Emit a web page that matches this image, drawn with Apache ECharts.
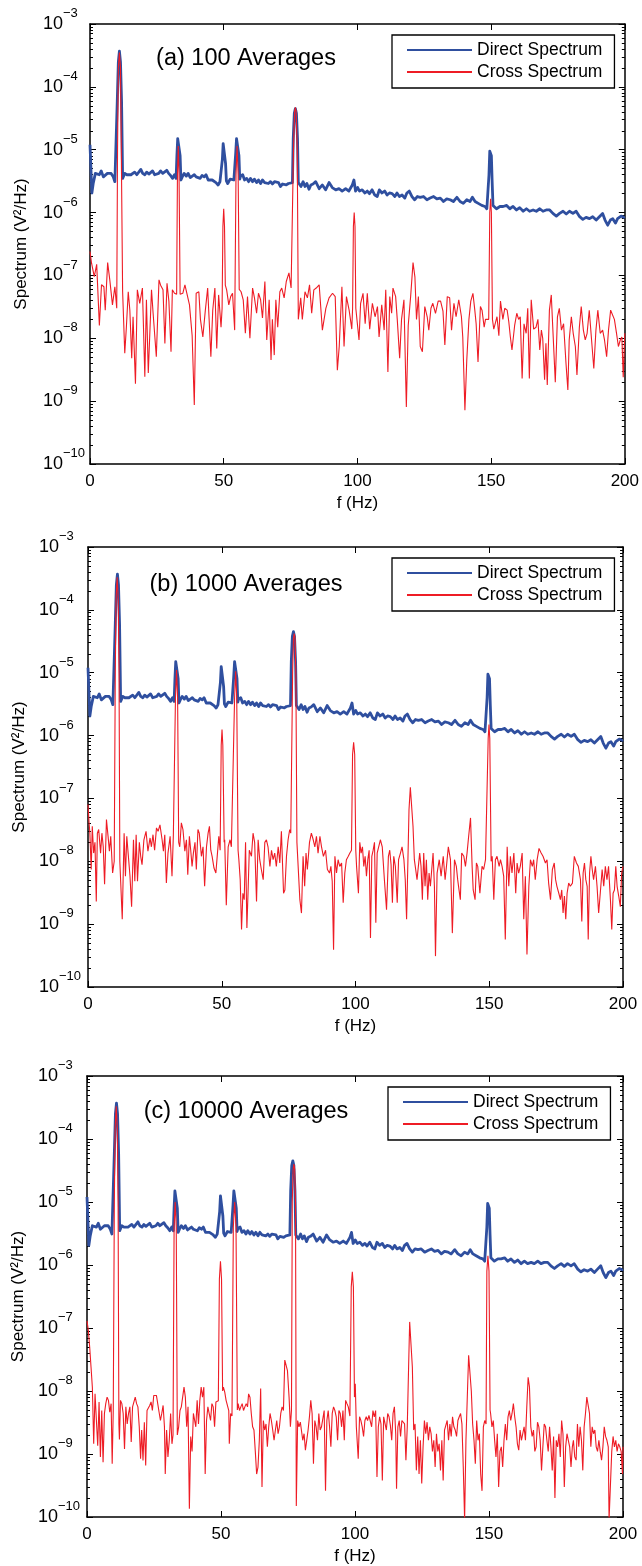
<!DOCTYPE html>
<html><head><meta charset="utf-8">
<script src="https://cdn.jsdelivr.net/npm/echarts@6/dist/echarts.min.js"></script>
<style>html,body{margin:0;padding:0;background:#fff}#chart{width:642px;height:1566px}</style>
</head><body><div id="chart"></div>
<script>
// ---------- data (frequency in Hz, spectrum in V^2/Hz) ----------
const directSpectrum = [[0,1.2e-5],[0.7,2.05e-6],[1.2,2.9e-6],[2,4.2e-6],[2.7,4.4e-6],[3.5,4e-6],[4.2,4.6e-6],[5,3.7e-6],[5.7,3.6e-6],[6.5,4.2e-6],[7.2,4.5e-6],[7.9,4.2e-6],[8.7,3.7e-6],[9.3,3.1e-6],[9.7,3.2e-6],[10.2,6e-5],[10.6,2.5e-4],[11,3.7e-4],[11.4,2.5e-4],[11.8,6e-5],[12.2,3.5e-6],[13,4.2e-6],[13.8,4e-6],[14.5,4.3e-6],[15.3,4e-6],[16,4.2e-6],[16.7,4.4e-6],[17.5,4e-6],[18.2,4.1e-6],[19,4.85e-6],[19.7,4.2e-6],[20.5,4e-6],[21.2,4.4e-6],[22,4.1e-6],[22.7,4e-6],[23.4,4.6e-6],[24.2,4e-6],[24.9,4.3e-6],[25.7,4.2e-6],[26.4,4.6e-6],[27.2,4.2e-6],[27.9,4.4e-6],[28.7,4.7e-6],[29.4,4.2e-6],[30.1,3.9e-6],[30.9,3.5e-6],[31.6,4e-6],[32.2,3.5e-6],[32.5,8e-6],[32.8,1.5e-5],[33.1,1.6e-5],[33.4,1.5e-5],[33.7,8e-6],[34,3.3e-6],[34.5,3.7e-6],[35.2,4.2e-6],[36,3.8e-6],[36.7,4.2e-6],[37.5,3.6e-6],[38.2,3.5e-6],[39,4e-6],[39.7,3.7e-6],[40.4,3.9e-6],[41.2,3.5e-6],[41.9,3.9e-6],[42.7,3.7e-6],[43.4,4e-6],[44.2,3.3e-6],[44.9,3.5e-6],[45.7,3.3e-6],[46.4,3.5e-6],[47.1,3e-6],[47.9,2.75e-6],[48.6,3.1e-6],[49.2,3.2e-6],[49.5,7e-6],[49.8,1.25e-5],[50.1,1.3e-5],[50.4,1.2e-5],[50.7,6e-6],[51,3.2e-6],[51.5,2.9e-6],[52.4,3.4e-6],[53.1,3.5e-6],[53.8,3.3e-6],[54.2,3.3e-6],[54.5,9e-6],[54.8,1.5e-5],[55.1,1.6e-5],[55.4,1.45e-5],[55.7,8e-6],[56,3.4e-6],[56.3,3.8e-6],[57.1,4e-6],[57.8,3.3e-6],[58.6,3.5e-6],[59.3,3.1e-6],[60,3.5e-6],[60.8,3.1e-6],[61.5,3.4e-6],[62.3,3e-6],[63,3.3e-6],[63.8,2.9e-6],[64.5,3.3e-6],[65.3,3e-6],[66,3.1e-6],[66.7,2.9e-6],[67.5,3.1e-6],[68.2,2.85e-6],[69,3.1e-6],[69.7,2.9e-6],[70.5,3e-6],[71.2,2.6e-6],[72,2.85e-6],[72.7,3e-6],[73.4,2.75e-6],[74.2,2.9e-6],[74.9,3.1e-6],[75.7,3e-6],[76,1.5e-5],[76.4,3.8e-5],[76.8,4.5e-5],[77.2,3.8e-5],[77.6,1.5e-5],[77.9,3e-6],[78.2,3.1e-6],[78.9,2.6e-6],[79.7,3.1e-6],[80.4,2.6e-6],[81.1,2.9e-6],[81.9,2.35e-6],[82.6,2.75e-6],[83.4,2.85e-6],[84.4,3.1e-6],[85.7,2.4e-6],[86.9,2.75e-6],[88.1,2.3e-6],[89.4,3e-6],[90.6,2.5e-6],[91.9,2.3e-6],[93.1,2.4e-6],[94.3,2.2e-6],[95.6,2.4e-6],[96.8,2.2e-6],[98.1,2.75e-6],[98.7,3.3e-6],[99.3,2.2e-6],[100.1,2.5e-6],[100.8,2.2e-6],[101.8,2.3e-6],[102.8,2.05e-6],[103.7,2.2e-6],[104.5,2e-6],[105.5,2.3e-6],[106.5,1.9e-6],[107.4,1.8e-6],[108.2,2.3e-6],[109.2,2.05e-6],[110.2,2.2e-6],[111.1,1.9e-6],[112,2.05e-6],[113,2e-6],[114,1.8e-6],[114.8,2.05e-6],[115.7,1.8e-6],[116.7,1.9e-6],[117.7,1.7e-6],[118.5,2.05e-6],[119.4,2.2e-6],[120.4,1.8e-6],[121.4,1.6e-6],[122.4,1.8e-6],[123.5,1.75e-6],[124.7,1.8e-6],[126,1.6e-6],[127.2,1.7e-6],[128.5,1.8e-6],[129.7,1.65e-6],[131,1.7e-6],[132.2,1.5e-6],[133.4,1.65e-6],[134.7,1.6e-6],[135.9,1.5e-6],[137.2,1.75e-6],[138.4,1.5e-6],[139.6,1.4e-6],[140.9,1.6e-6],[142.1,1.5e-6],[143,1.75e-6],[144,1.5e-6],[145.2,1.4e-6],[146.5,1.3e-6],[147.7,1.25e-6],[148.4,1.15e-6],[148.9,1.2e-6],[149.2,4e-6],[149.5,9.5e-6],[149.8,1e-5],[150.1,8e-6],[150.4,3e-6],[150.7,1.3e-6],[151.2,1.3e-6],[152,1.15e-6],[153.3,1.25e-6],[154.5,1.25e-6],[155.8,1.3e-6],[157,1.15e-6],[158.2,1.25e-6],[159.5,1.1e-6],[160.7,1.2e-6],[162,1.05e-6],[163.2,1.15e-6],[164.4,1.05e-6],[165.7,1.1e-6],[166.9,1.05e-6],[168.2,1.15e-6],[169.4,1.05e-6],[170.6,1.1e-6],[171.9,1.1e-6],[173.1,9.7e-7],[174.4,8.8e-7],[175.6,9.7e-7],[176.9,1.05e-6],[178.1,9.5e-7],[179.3,1.05e-6],[180.6,9.7e-7],[181.8,1.05e-6],[183.1,8.6e-7],[184.3,7.8e-7],[185.5,8.4e-7],[186.8,8e-7],[188,8.6e-7],[189.3,7.6e-7],[190.5,8.6e-7],[191.7,9.7e-7],[192.6,7.6e-7],[193.6,6.3e-7],[194.6,7.6e-7],[195.5,8e-7],[196.5,6.8e-7],[197.3,8e-7],[198.6,8.8e-7],[199.6,8.4e-7],[200,8.6e-7]];

const crossSpectrumA = [[0,2.4e-7],[0.6,1.55e-7],[1.6,9.6e-8],[2.5,1.5e-7],[3.5,1.6e-8],[4.3,7.1e-8],[5.2,6.6e-8],[5.7,2.8e-8],[6.6,1.6e-7],[7.4,8.5e-8],[8.4,3.4e-8],[9.3,6.6e-8],[10,3e-8],[10.3,1e-5],[10.6,2e-4],[11,3.5e-4],[11.4,2e-4],[11.7,1e-5],[12.2,5.5e-8],[13,5.8e-9],[13.6,1.5e-8],[14.3,5.5e-8],[14.9,2.8e-8],[15.6,4.8e-9],[16.1,2.2e-8],[17,1.9e-9],[17.7,5.9e-8],[18.6,3.6e-8],[19.6,6.3e-8],[20.5,2.45e-9],[21.1,4.1e-8],[21.8,2.8e-9],[23,5.9e-8],[23.6,2.5e-8],[24.8,5.1e-9],[25.8,8.5e-8],[26.4,7e-8],[27.3,5.9e-8],[28,8.3e-9],[28.8,7.5e-8],[29.5,3.9e-8],[30.3,6.1e-9],[30.8,5.9e-8],[31.6,5.2e-8],[32.4,5e-8],[32.7,4e-6],[33,1.15e-5],[33.3,4e-6],[33.7,5e-8],[34.7,5.2e-8],[35.5,7.1e-8],[36.2,7.5e-8],[37.2,3.4e-8],[38.2,1.1e-8],[39,8.7e-10],[39.7,5.2e-8],[40.7,5.5e-8],[41.3,2e-8],[42.2,1.05e-8],[43.1,2.7e-8],[44,6.3e-8],[45.2,5.1e-9],[45.9,2.8e-8],[46.7,6.3e-8],[47.4,6.9e-9],[48.1,4.9e-8],[49,1.5e-8],[49.4,3e-8],[49.7,6e-7],[50,1.15e-6],[50.3,6e-7],[50.6,7e-8],[51.1,5.9e-8],[51.9,3.4e-8],[52.6,4.6e-8],[53.3,5.2e-8],[54.1,1.35e-8],[54.6,4e-6],[55,1.15e-5],[55.4,4e-6],[55.8,6e-8],[56.5,5.5e-8],[57.3,4.1e-8],[58.1,1.2e-8],[58.9,4.6e-8],[59.8,1e-8],[60.8,6.3e-8],[61.5,4.4e-8],[62.3,2.5e-8],[63,5.2e-8],[63.8,4.1e-8],[64.5,2.1e-8],[65.4,8e-8],[66.1,9.4e-9],[67,4.1e-8],[67.7,4.5e-9],[68.2,2e-8],[68.9,5.4e-9],[69.5,4.1e-8],[70.2,1.5e-8],[71,5.5e-8],[71.7,6.3e-8],[72.6,4.4e-8],[73.4,8e-8],[74.4,1.1e-7],[75.2,6.3e-8],[75.8,6e-8],[76.1,1e-5],[76.5,4e-5],[76.8,4.7e-5],[77.1,4e-5],[77.5,1e-5],[77.9,2e-8],[78.8,4.4e-8],[79.4,2e-8],[80.4,5.5e-8],[81.3,4.4e-8],[82.1,7.1e-8],[82.9,2.5e-8],[83.7,5.9e-8],[84.6,6.3e-8],[85.7,7.1e-8],[86.9,1.35e-8],[88.2,3e-8],[89.4,4.4e-8],[90.7,5.2e-8],[91.7,4.6e-8],[92.5,3.1e-9],[93.2,7.4e-9],[94.2,6.6e-8],[95,7.4e-9],[95.9,4.6e-8],[96.9,2.8e-8],[97.9,1.4e-8],[98.2,3e-8],[98.5,6e-7],[98.8,1e-6],[99.1,6e-7],[99.4,3e-8],[100,3e-8],[100.6,9.4e-9],[101.2,3.6e-8],[102.1,5.2e-8],[102.9,1.7e-8],[103.7,5.2e-8],[104.6,1.4e-8],[105.6,3.6e-8],[106.6,2.2e-8],[107.5,3.2e-8],[108.1,1.05e-8],[109.1,3.4e-8],[110,1.35e-8],[110.6,5.9e-8],[111.4,2.9e-9],[112.1,4.6e-8],[112.8,2.5e-8],[113.3,6.3e-8],[114.3,4.6e-8],[114.9,2e-8],[115.8,4.8e-9],[116.5,2e-8],[117.4,4.1e-8],[118.3,8.1e-10],[119,1.6e-8],[119.9,4.6e-8],[120.8,1.6e-7],[121.5,9.5e-8],[122.1,2e-8],[122.8,4.6e-8],[123.5,7.4e-9],[124.3,6.1e-9],[125.2,3.2e-8],[126.1,2.2e-8],[126.7,1.35e-8],[127.5,3e-8],[128.2,3.6e-8],[129.2,2.5e-8],[130.2,3.9e-8],[131.1,3.9e-8],[132,2.7e-8],[132.7,7.8e-9],[133.6,4.6e-8],[134.5,4.4e-8],[135.2,1.35e-8],[136.1,3.6e-8],[136.9,2.2e-8],[137.9,4.1e-8],[138.9,2.2e-8],[139.4,1.05e-8],[140.2,7.2e-10],[140.9,4.5e-9],[141.7,2e-8],[142.4,3.9e-8],[143.2,5.2e-8],[143.9,2.8e-8],[144.4,1.7e-8],[145.1,4.2e-9],[146,3.2e-8],[146.6,2.8e-8],[147.4,1.5e-8],[147.9,2e-8],[149.1,2e-8],[149.5,1e-6],[149.8,1.65e-6],[150.1,1e-6],[150.5,2e-8],[151,1.4e-8],[151.6,1.35e-8],[152.2,2.2e-8],[152.9,1.1e-8],[153.5,3.9e-8],[154.4,2e-8],[155.1,3e-8],[156,2.8e-8],[156.6,1.85e-8],[157.2,1.05e-8],[157.8,6.5e-9],[158.8,1.6e-8],[159.6,2.5e-8],[160.3,2e-8],[160.9,2.2e-8],[161.6,2.3e-9],[162.3,1.7e-8],[163.1,1.2e-8],[163.7,3e-8],[164.3,2.3e-9],[165,4.1e-8],[165.9,1.4e-8],[166.8,1.5e-8],[167.5,2e-8],[168.2,6.5e-9],[168.8,1.35e-8],[169.3,1e-8],[170,2.2e-9],[170.5,8.3e-9],[171,1.8e-9],[171.8,2.8e-8],[172.5,4.9e-8],[173.1,1.35e-8],[174,2e-9],[174.8,2.2e-8],[175.5,3e-8],[176.3,1.35e-8],[177.1,1.7e-8],[178,4e-9],[178.7,1.5e-9],[179.2,9.4e-9],[180,2.2e-8],[180.7,1.2e-8],[181.5,7.4e-9],[182.1,2.6e-9],[183,1.5e-8],[183.7,3.2e-8],[184.5,1.35e-8],[185.2,9.4e-9],[185.9,1.2e-8],[186.7,2.8e-8],[187.4,3e-8],[188.4,3.3e-9],[189.2,1.35e-8],[189.9,2.8e-8],[190.8,1.2e-8],[191.7,1.35e-8],[192.4,9.4e-9],[193.2,5.1e-9],[193.9,1.35e-8],[194.7,2.8e-8],[195.4,2.7e-8],[196.1,2e-8],[196.9,1.2e-8],[197.6,7.4e-9],[198.3,9.4e-9],[198.9,1.05e-8],[199.4,2.4e-9],[200,1.2e-8]];

const crossSpectrumB = [[0,8e-8],[0.4,4.1e-8],[0.7,2.8e-8],[1.2,7.4e-9],[1.6,3.6e-8],[2.1,1.35e-8],[2.6,2e-8],[3.1,2.3e-9],[3.5,2.8e-8],[4,3.2e-8],[4.7,1.35e-8],[5.2,2.8e-8],[5.7,1.7e-8],[6.2,4.3e-9],[6.9,4.6e-8],[7.5,2.5e-8],[8,1.45e-8],[8.5,2.5e-8],[9.2,6.5e-9],[9.8,1e-8],[10.2,1e-5],[10.5,1.5e-4],[10.9,3.3e-4],[11.3,1.5e-4],[11.6,1e-5],[11.9,1e-8],[12.2,1.06e-8],[12.8,1.2e-9],[13.5,2.8e-8],[14,5.8e-9],[14.5,2.5e-8],[15,1.35e-8],[15.7,5.8e-9],[16.3,1.9e-9],[17,2.2e-8],[17.5,4.8e-9],[18,2.65e-8],[18.5,4.8e-9],[19.2,2e-8],[19.7,1.2e-8],[20.2,8.8e-9],[20.9,2.2e-8],[21.7,3e-8],[22.4,1.45e-8],[23.2,2.35e-8],[23.7,1.7e-8],[24.3,2.65e-8],[24.9,1.5e-8],[25.6,3.4e-8],[26.2,3e-8],[26.9,3.8e-8],[27.7,2.2e-8],[28.2,1.45e-8],[28.7,2.65e-8],[29.3,4.5e-9],[29.9,1.35e-8],[30.7,2.5e-8],[31.4,5.8e-9],[31.9,2.5e-8],[32.3,2.5e-8],[32.7,4e-6],[33.1,1.1e-5],[33.5,4e-6],[33.9,2e-8],[34.3,1.7e-8],[34.9,4.1e-8],[35.5,3.2e-8],[36.2,1.45e-8],[36.8,2.2e-8],[37.3,6.1e-9],[37.9,2.5e-8],[38.4,1.5e-8],[38.9,8.3e-9],[39.4,1.35e-8],[40,2e-8],[40.5,7.4e-9],[41.1,3.2e-8],[41.6,2.8e-8],[42.4,1.2e-8],[43,1.7e-8],[43.6,4e-9],[44.3,1.7e-8],[44.9,2.8e-8],[45.4,3.6e-8],[45.9,1.5e-8],[46.4,1.2e-8],[47.1,7.8e-9],[47.8,6.5e-9],[48.4,1.35e-8],[48.9,2.5e-8],[49.4,1.5e-8],[49.8,7e-7],[50.1,1.25e-6],[50.4,7e-7],[50.9,2e-8],[51.1,2.2e-8],[51.7,2e-9],[52.4,1.7e-8],[53.1,2.2e-8],[53.6,1.7e-8],[54.3,1.7e-8],[54.8,4e-6],[55.2,1.05e-5],[55.6,4e-6],[56.1,1.5e-8],[56.4,1.06e-8],[56.9,5.1e-9],[57.4,8.2e-10],[57.9,3.1e-9],[58.4,2.45e-9],[58.9,2e-8],[59.4,8.7e-10],[59.9,4e-9],[60.3,1.5e-8],[61.1,1.2e-8],[61.7,2.8e-8],[62.3,2e-8],[63,2.3e-9],[63.6,2.2e-8],[64.2,1.06e-8],[64.8,7.4e-9],[65.5,5.1e-9],[66.1,2e-8],[66.7,2.2e-8],[67.3,1.7e-8],[68,8.3e-9],[68.6,1.5e-8],[69.2,1.06e-8],[69.8,1.35e-8],[70.4,8.3e-9],[71.1,1.7e-8],[71.7,9.4e-9],[72.3,3e-8],[73.1,3.1e-9],[73.6,3.5e-9],[74.2,1.2e-8],[74.8,2.2e-8],[75.4,3.2e-8],[75.8,2.8e-8],[76.1,3e-8],[76.5,1e-5],[76.8,3.5e-5],[77.1,4.2e-5],[77.4,3.5e-5],[77.7,1e-5],[78.1,2e-8],[78.6,2e-8],[79.2,2.45e-9],[79.8,1.5e-9],[80.4,1.2e-8],[81,4e-9],[81.5,1.35e-8],[82,7.4e-9],[82.8,2e-8],[83.5,2.8e-8],[84.2,2.2e-8],[84.8,1.7e-8],[85.4,2.5e-8],[86,1.35e-8],[86.7,2.5e-8],[87.3,1.7e-8],[88,1.2e-8],[88.8,1.5e-8],[89.5,7.4e-9],[90.3,6.5e-9],[90.8,8.3e-9],[91.3,4.8e-9],[91.8,3.9e-10],[92.3,1.2e-8],[92.9,6.5e-9],[93.5,1.06e-8],[94.1,8.3e-9],[94.8,9.4e-9],[95.4,2.2e-9],[96,6.5e-9],[96.6,1.06e-8],[97.3,1.2e-8],[97.9,1.35e-8],[98.5,1.5e-8],[98.9,5e-7],[99.3,7.8e-7],[99.7,5e-7],[100.1,1.5e-8],[100.4,8.3e-9],[101.1,3.1e-9],[101.6,2e-8],[102.1,1.35e-8],[102.6,1.7e-8],[103.1,8.3e-9],[103.6,1.2e-8],[104.1,5.8e-9],[104.6,1.06e-8],[105.1,1.5e-8],[105.6,6e-10],[106.1,1.2e-8],[106.6,1.5e-8],[107.1,2e-8],[107.6,1.05e-9],[108.1,1.35e-8],[108.8,1.45e-8],[109.3,2.2e-8],[110,1.7e-8],[110.8,5.1e-9],[111.6,1.7e-9],[112.3,1.2e-8],[112.8,1.5e-8],[113.3,8.8e-9],[113.8,2.2e-9],[114.3,1.2e-8],[114.9,8.3e-9],[115.6,2.2e-9],[116.1,1.06e-8],[116.8,1.35e-8],[117.4,1.7e-8],[118.1,1.06e-8],[118.6,5.1e-9],[119.1,1.2e-9],[119.6,1.06e-8],[120,6.6e-8],[120.5,1.5e-7],[121,1.4e-7],[121.5,3.6e-8],[122,1.06e-8],[122.5,7.4e-9],[123,5.1e-9],[123.5,5.1e-9],[124,1.35e-8],[124.5,8.3e-9],[125,2.45e-9],[125.5,1.35e-8],[126,4e-9],[126.5,1.06e-8],[127,2.45e-9],[127.5,6.5e-9],[128,4e-9],[128.5,7.4e-9],[129,1.35e-8],[129.5,4e-9],[129.9,3.1e-10],[130.5,6.5e-9],[131.3,1.06e-8],[132,5.8e-9],[132.8,1.2e-8],[133.5,5.1e-9],[134,8.3e-9],[134.7,1.7e-8],[135.5,1.06e-8],[136.2,7.2e-10],[137,1.06e-8],[137.7,8.3e-9],[138.2,5.1e-9],[138.7,3.5e-9],[139.2,2.45e-9],[139.7,1.35e-8],[140.5,1.2e-8],[141.1,8.3e-9],[141.7,1.35e-8],[142.3,2.5e-8],[143,4.9e-8],[143.6,8.3e-9],[144,3.5e-9],[144.7,2.45e-9],[145.2,9.4e-9],[145.7,8.3e-9],[146.5,3.1e-9],[147.3,8.3e-9],[147.9,7.4e-9],[148.6,1.06e-8],[149.2,1e-8],[149.6,9e-7],[149.9,1.5e-6],[150.2,9e-7],[150.7,1e-8],[151.1,1.2e-8],[151.7,2.45e-9],[152.3,1.06e-8],[152.9,1.2e-8],[153.7,8.3e-9],[154.2,1.06e-8],[154.8,8.3e-9],[155.4,5.8e-9],[156,5.7e-10],[156.7,1.7e-8],[157.3,4e-9],[157.9,1.2e-8],[158.5,6.5e-9],[159.2,1.35e-8],[159.9,3.1e-9],[160.4,9.4e-9],[161,6.5e-9],[161.6,8.3e-9],[162.3,1.35e-8],[162.9,1.2e-9],[163.5,5.8e-9],[164.1,3.3e-10],[164.8,4e-9],[165.4,1.06e-8],[166.1,8.3e-9],[166.6,1.06e-8],[167.2,5.1e-9],[167.9,1.06e-8],[168.6,1.6e-8],[169.4,1.35e-8],[170.1,1.2e-8],[171,9.4e-9],[171.6,1.06e-8],[172.2,4.5e-9],[172.9,2.45e-9],[173.6,7.4e-9],[174.3,9.4e-9],[174.8,5.1e-9],[175.3,4e-9],[176,3.1e-9],[176.6,2.45e-9],[177.1,3.5e-9],[177.6,1.5e-9],[178.1,2.8e-9],[178.6,1.2e-9],[179.1,3.1e-9],[179.7,4.5e-9],[180.3,4e-9],[181.1,4.5e-9],[181.8,1.2e-8],[182.6,9.4e-9],[183.3,8.3e-9],[184.1,5.1e-9],[184.6,1.1e-9],[185.1,6.5e-9],[185.6,9.4e-9],[186.1,5.1e-9],[186.6,4e-9],[187,5.7e-10],[187.5,6.5e-9],[188,1.2e-8],[188.5,7.4e-9],[189,5.1e-9],[189.7,8.3e-9],[190.3,4e-9],[190.9,1.5e-9],[191.5,3.1e-9],[192.2,7.4e-9],[192.8,4e-9],[193.4,8.3e-9],[194,5.1e-9],[194.6,8.3e-9],[195.3,2.45e-9],[195.8,8.2e-10],[196.3,3.1e-9],[196.8,3.5e-9],[197.3,8.3e-9],[197.8,4e-9],[198.4,2.8e-9],[199,1.9e-9],[199.5,6.5e-9],[200,8.3e-9]];

const crossSpectrumC = [[0,1.3e-7],[0.5,9.2e-8],[1,5e-8],[1.5,2.4e-8],[2,1.15e-8],[2.5,1.45e-9],[3,9e-9],[3.5,9.6e-9],[4,1.35e-9],[4.5,6.7e-9],[5,9e-10],[5.5,4.9e-9],[6,7.4e-10],[6.5,4.4e-9],[7,6.3e-9],[7.5,8e-9],[8,7.1e-9],[8.5,4.6e-9],[9,6.3e-9],[9.4,7e-10],[9.8,5e-9],[10.2,1e-5],[10.5,1.5e-4],[10.9,3.3e-4],[11.3,1.5e-4],[11.6,1e-5],[11.9,3e-9],[12.1,1.7e-9],[12.5,7.1e-9],[13,6.3e-9],[13.5,4.4e-9],[14,1.2e-9],[14.5,5.6e-9],[15,3e-9],[15.5,4.4e-9],[16,5.6e-9],[16.5,1.55e-9],[17,5.6e-9],[17.5,5.6e-9],[18,8e-9],[18.5,6.3e-9],[19,5.6e-9],[19.5,2.7e-9],[20,8.4e-10],[20.4,2.4e-9],[20.9,7.9e-10],[21.4,3.2e-9],[21.9,6.6e-10],[22.4,4.9e-9],[22.9,4.9e-9],[23.4,5.9e-9],[23.9,6.7e-9],[24.4,4.9e-9],[24.9,8.5e-9],[25.4,8e-9],[25.9,8.5e-9],[26.4,9e-9],[26.9,4.6e-9],[27.4,3.4e-9],[27.9,4.4e-9],[28.4,5.9e-9],[28.9,2.7e-9],[29.2,4.8e-10],[29.7,2.4e-9],[30.2,9e-10],[30.7,1.65e-9],[31.2,4.4e-9],[31.7,1.45e-9],[32.1,2e-9],[32.5,4e-6],[32.9,1e-5],[33.3,4e-6],[33.7,2e-9],[34.2,2.7e-9],[34.7,4.9e-9],[35.2,5.6e-9],[35.7,5.6e-9],[36.2,1.15e-8],[36.7,8e-9],[37.2,2.7e-9],[37.7,5.6e-9],[38.2,1.35e-10],[38.7,1.9e-9],[39.2,1.1e-9],[39.7,4.4e-9],[40.1,4.6e-9],[40.6,2.7e-9],[41.1,7.1e-9],[41.6,3e-9],[42.1,7.1e-9],[42.6,1.15e-8],[43.1,8e-9],[43.6,1.15e-8],[44.1,4.8e-10],[44.6,3.4e-9],[45.1,5.6e-9],[45.6,5.9e-9],[46.1,3.4e-9],[46.6,6.3e-9],[47.1,5.6e-9],[47.6,2.7e-9],[48.1,6.7e-9],[48.6,7.1e-9],[49,7e-9],[49.4,6e-7],[49.8,1.15e-6],[50.2,6e-7],[50.6,1e-8],[50.9,1.15e-8],[51.4,9.6e-9],[51.9,7.1e-9],[52.4,7.1e-9],[52.9,4.9e-9],[53.1,1.45e-9],[53.6,4.4e-9],[54.1,4e-9],[54.6,4e-6],[55.1,1e-5],[55.6,4e-6],[56.1,5e-9],[56.4,6.3e-9],[56.9,4.9e-9],[57.4,5.6e-9],[57.9,6.3e-9],[58.4,4.9e-9],[58.9,5.6e-9],[59.4,6.3e-9],[59.9,5.6e-9],[60.3,9e-9],[60.8,8e-9],[61.3,4.4e-9],[61.8,2.7e-9],[62.3,2.4e-9],[62.8,1.1e-9],[63.3,4.8e-10],[63.8,6.2e-10],[64.3,1.65e-9],[64.8,1.1e-8],[65.3,3e-10],[65.8,3.4e-9],[66.3,2.4e-9],[66.8,3e-9],[67.3,1.3e-9],[67.8,2.7e-9],[68.3,4.4e-9],[68.8,3.4e-9],[69.3,2.4e-9],[69.8,1.65e-9],[70.3,2.4e-9],[70.8,3.4e-9],[71.3,2.1e-9],[71.8,2.7e-9],[72.3,4.4e-9],[72.8,5.6e-9],[73.3,4.9e-9],[73.8,3.1e-8],[74.3,3.2e-8],[74.8,2.1e-8],[75.4,8e-9],[75.9,2.7e-9],[76.3,5e-9],[76.6,1e-5],[76.9,3.3e-5],[77.2,4e-5],[77.5,3.3e-5],[77.8,1e-5],[78.1,1.5e-10],[78.6,3.4e-9],[79.1,2.7e-9],[79.6,3.2e-9],[80,2.4e-9],[80.5,1.65e-9],[81,2.1e-9],[81.5,1.15e-9],[82,1.1e-9],[82.5,2.4e-9],[83,3.9e-9],[83.5,7.1e-9],[84,4.4e-9],[84.5,7e-10],[85,3.4e-9],[85.5,2.7e-9],[86,1.65e-9],[86.5,4.4e-9],[87,2.4e-9],[87.5,2.7e-9],[88,2.7e-9],[88.5,4.9e-9],[89,2.6e-10],[89.5,3.4e-9],[90,4.9e-9],[90.5,2.7e-9],[91,1.3e-9],[91.5,4.4e-9],[92,5.6e-9],[92.5,4.9e-9],[93,3.9e-9],[93.5,1.65e-9],[94,4.9e-9],[94.5,4.4e-9],[95,2.7e-9],[95.5,4.9e-9],[96,1.65e-9],[96.5,7.1e-9],[97,6.3e-9],[97.5,5.6e-9],[98.1,4e-9],[98.6,4.5e-7],[99,7.8e-7],[99.4,4.5e-7],[99.8,8e-9],[100.1,1.3e-8],[100.5,2.7e-9],[100.8,2.85e-9],[101.2,8.4e-10],[101.7,3.9e-9],[102.2,3.4e-9],[102.7,2.7e-9],[103.2,1.9e-9],[103.7,3.4e-9],[104.2,3.9e-9],[104.7,3.4e-9],[105.2,4.1e-9],[105.7,3.9e-9],[106.2,2.7e-9],[106.7,4.9e-9],[107.2,3.9e-9],[107.7,4.9e-9],[108.2,4.3e-10],[108.7,2.7e-9],[109.2,3.9e-9],[109.7,3e-9],[110.2,3.8e-10],[110.7,3.9e-9],[111.2,4.1e-9],[111.7,2.4e-9],[112.2,4.4e-9],[112.7,3.9e-9],[113.2,2.85e-9],[113.7,1.65e-9],[114.2,4.4e-9],[114.7,5.6e-9],[115.2,2.1e-9],[115.5,2.8e-10],[116,2.7e-9],[116.5,3.4e-9],[117,1.9e-9],[117.5,3.4e-9],[118,3.2e-9],[118.5,3e-9],[119,8e-10],[119.5,2.7e-9],[120,2.4e-8],[120.4,1.25e-7],[120.9,1.2e-7],[121.4,2.4e-8],[121.9,2.4e-9],[122.4,3e-9],[122.9,5.5e-10],[123.4,1.9e-9],[123.9,4.8e-10],[124.4,1.65e-9],[124.9,3.4e-10],[125.4,1.3e-9],[125.9,3.4e-9],[126.4,2.1e-9],[126.9,3.2e-9],[127.4,1.65e-9],[127.9,2.7e-9],[128.4,2.1e-9],[128.9,1.1e-9],[129.4,1.65e-9],[129.9,6.2e-10],[130.4,2.1e-9],[130.9,1.1e-9],[131.4,1.45e-9],[131.9,5.5e-10],[132.4,1.65e-9],[132.9,3.8e-10],[133.4,2.4e-9],[133.9,2.5e-9],[134.4,3.4e-9],[134.9,1.65e-9],[135.4,3e-9],[135.9,1.9e-9],[136.4,3.9e-9],[136.9,2.7e-9],[137.4,2.4e-9],[137.9,1.9e-9],[138.4,3.4e-9],[138.9,3.9e-9],[139.4,4.4e-9],[139.9,3e-9],[140.4,6.2e-10],[140.9,9e-11],[141.4,1.65e-9],[141.9,8e-9],[142.4,3.7e-8],[142.9,3.7e-8],[143.4,1e-8],[143.9,3e-9],[144.4,1.65e-9],[144.9,7e-10],[145.4,3.4e-9],[145.9,1.65e-9],[146.4,2.1e-9],[146.9,4.8e-10],[147.4,2.6e-10],[147.9,2.7e-9],[148.4,3.4e-9],[148.9,3e-9],[149.2,8e-7],[149.6,1.4e-6],[150,8e-7],[150.4,5e-9],[150.6,4.4e-9],[151.1,2.7e-9],[151.6,3.4e-9],[152.1,1.65e-9],[152.6,9e-10],[153.1,2.1e-9],[153.6,3e-10],[154.1,1.1e-9],[154.6,1.3e-9],[155.1,6.2e-10],[155.6,1.65e-9],[156.1,3e-9],[156.6,1.65e-9],[157.1,3.9e-9],[157.6,4.9e-9],[158.1,3.4e-9],[158.6,4.4e-9],[159.1,6.3e-9],[159.6,3.9e-9],[160.1,2.7e-9],[160.6,1.45e-9],[161.1,1.15e-9],[161.6,2.4e-9],[162.1,1.65e-9],[162.6,2.1e-9],[163.1,2.7e-9],[163.6,1.65e-9],[164.1,5.6e-9],[164.6,1.65e-8],[165.1,1.15e-8],[165.6,2.7e-9],[166.1,1.9e-9],[166.6,2.4e-9],[167.1,1.1e-9],[167.6,1.3e-9],[168.1,3.2e-9],[168.6,2.7e-9],[169.1,1.65e-9],[169.6,5.5e-10],[170.1,1.3e-9],[170.6,3e-9],[171.1,2.7e-9],[171.6,1.65e-9],[172.1,1.1e-9],[172.6,2.7e-9],[173.1,1.3e-9],[173.6,5.5e-10],[174.1,1.9e-9],[174.6,2e-10],[175.1,1.65e-9],[175.6,1.3e-9],[176.1,2.1e-9],[176.6,9e-10],[177.1,3.4e-9],[177.6,2.1e-9],[178.1,3e-10],[178.6,1.3e-9],[179.1,2.1e-9],[179.6,1.65e-9],[180.1,1.3e-9],[180.6,6.2e-10],[181.1,1.3e-9],[181.5,1.65e-9],[182,9e-10],[182.5,8e-10],[183,3e-9],[183.5,1.3e-9],[184,2.7e-9],[184.5,1.65e-9],[185,5.5e-10],[185.5,2.7e-9],[186,4.4e-9],[186.5,8e-9],[187,8e-9],[187.5,4.4e-9],[188,1.3e-9],[188.5,2.7e-9],[189,2.1e-9],[189.5,2.4e-9],[190,1.3e-9],[190.5,1.1e-9],[191,1.65e-9],[191.5,1.1e-9],[192,8e-10],[192.5,1.3e-9],[193,2.7e-9],[193.5,1.9e-9],[194,1.65e-9],[194.5,1.3e-9],[194.8,9e-11],[195.3,9e-11],[195.8,1.1e-9],[196.3,1.9e-9],[196.8,1.3e-9],[197.3,1.65e-9],[197.8,1.1e-9],[198.3,1.45e-9],[198.8,1.3e-9],[199.3,1.1e-9],[199.8,4.8e-10],[200,1.3e-9]];

const panelTitles = ['(a) 100 Averages', '(b) 1000 Averages', '(c) 10000 Averages'];
const seriesNames = ['Direct Spectrum', 'Cross Spectrum'];
const crossSeries = [crossSpectrumA, crossSpectrumB, crossSpectrumC];
const xRange = {min: 0, max: 200, interval: 50};
const yExponents = [-10, -9, -8, -7, -6, -5, -4, -3];
const xName = 'f (Hz)';
const yName = 'Spectrum (V\u00B2/Hz)';

// ---------- layout / style ----------
const FONT = '"Liberation Sans", Arial, Helvetica, sans-serif';
const BLUE = '#2f4f9f';
const RED = '#ee1c25';
const panels = [
  {grid: {left: 90, top: 24, width: 537, height: 440}, labelMargin: 47, legend: {left: 392, top: 35}, titleY: 59},
  {grid: {left: 88, top: 547, width: 535, height: 440}, labelMargin: 49, legend: {left: 392, top: 558}, titleY: 585},
  {grid: {left: 87, top: 1076, width: 536, height: 441}, labelMargin: 49, legend: {left: 388, top: 1087}, titleY: 1112}
];

function yLabel(v) {
  const e = Math.round(Math.log10(v));
  if (yExponents.indexOf(e) < 0) return '';
  return '{b|10}{s|' + (e < 0 ? '\u2212' : '') + Math.abs(e) + '}';
}

const axisLine = {show: true, onZero: false, lineStyle: {color: '#000', width: 1.5}};
const grids = [], xAxes = [], yAxes = [], series = [], legends = [], graphics = [];

panels.forEach((p, i) => {
  grids.push(Object.assign({containLabel: false}, p.grid));
  // bottom x
  xAxes.push({gridIndex: i, type: 'value', position: 'bottom', min: xRange.min, max: xRange.max, interval: xRange.interval,
    axisLine: axisLine, axisTick: {show: true, inside: true, length: 6, lineStyle: {color: '#000', width: 1}},
    axisLabel: {margin: 9, fontSize: 17, color: '#000', fontFamily: FONT},
    splitLine: {show: false}, name: xName, nameLocation: 'middle', nameGap: 31,
    nameTextStyle: {fontSize: 17, color: '#000', fontFamily: FONT}});
  // top x (mirror)
  xAxes.push({gridIndex: i, type: 'value', position: 'top', min: xRange.min, max: xRange.max, interval: xRange.interval,
    axisLine: axisLine, axisTick: {show: true, inside: true, length: 6, lineStyle: {color: '#000', width: 1}},
    axisLabel: {show: false}, splitLine: {show: false}});
  // left y
  yAxes.push({gridIndex: i, type: 'log', logBase: 10, position: 'left', min: 1e-10, max: 1e-3,
    axisLine: axisLine,
    axisTick: {show: true, inside: true, length: 6, lineStyle: {color: '#000', width: 1}},
    minorTick: {show: true, splitNumber: 9, length: 3, lineStyle: {color: '#000', width: 1}},
    axisLabel: {margin: p.labelMargin, align: 'left', color: '#000', fontFamily: FONT, formatter: yLabel,
      rich: {b: {fontSize: 18, lineHeight: 34, fontFamily: FONT, color: '#000'},
             s: {fontSize: 13, lineHeight: 14, verticalAlign: 'top', fontFamily: FONT, color: '#000'}}},
    splitLine: {show: false}, minorSplitLine: {show: false},
    name: yName, nameLocation: 'middle', nameRotate: 90, nameGap: 60,
    nameTextStyle: {fontSize: 17, color: '#000', fontFamily: FONT}});
  // right y (mirror)
  yAxes.push({gridIndex: i, type: 'log', logBase: 10, position: 'right', min: 1e-10, max: 1e-3,
    axisLine: axisLine,
    axisTick: {show: true, inside: true, length: 6, lineStyle: {color: '#000', width: 1}},
    minorTick: {show: true, splitNumber: 9, length: 3, lineStyle: {color: '#000', width: 1}},
    axisLabel: {show: false}, splitLine: {show: false}, minorSplitLine: {show: false}});

  series.push({type: 'line', name: seriesNames[0], xAxisIndex: 2 * i, yAxisIndex: 2 * i, data: directSpectrum,
    symbol: 'none', clip: true, z: 2, lineStyle: {color: BLUE, width: 2.8, join: 'round'}, itemStyle: {color: BLUE},
    emphasis: {disabled: true}});
  series.push({type: 'line', name: seriesNames[1], xAxisIndex: 2 * i, yAxisIndex: 2 * i, data: crossSeries[i],
    symbol: 'none', clip: true, z: 3, lineStyle: {color: RED, width: 1.1}, itemStyle: {color: RED},
    emphasis: {disabled: true}});

  legends.push({data: seriesNames, orient: 'vertical', left: p.legend.left, top: p.legend.top,
    itemWidth: 65, itemHeight: 12, itemGap: 4, padding: [6, 12, 7, 14],
    borderColor: '#000', borderWidth: 1.3, backgroundColor: '#fff', selectedMode: false,
    itemStyle: {color: 'rgba(0,0,0,0)', borderWidth: 0, opacity: 0},
    textStyle: {fontSize: 17.5, lineHeight: 18, color: '#000', fontFamily: FONT}});

  graphics.push({type: 'text', x: 246, y: p.titleY, z: 10,
    style: {text: panelTitles[i], fontSize: 23.5, fontFamily: FONT, fill: '#000', align: 'center', verticalAlign: 'middle'}});
});

const chart = echarts.init(document.getElementById('chart'), null, {renderer: 'canvas'});
chart.setOption({
  animation: false,
  backgroundColor: '#fff',
  grid: grids, xAxis: xAxes, yAxis: yAxes, series: series, legend: legends, graphic: graphics,
  tooltip: {show: false}
});
</script></body></html>
